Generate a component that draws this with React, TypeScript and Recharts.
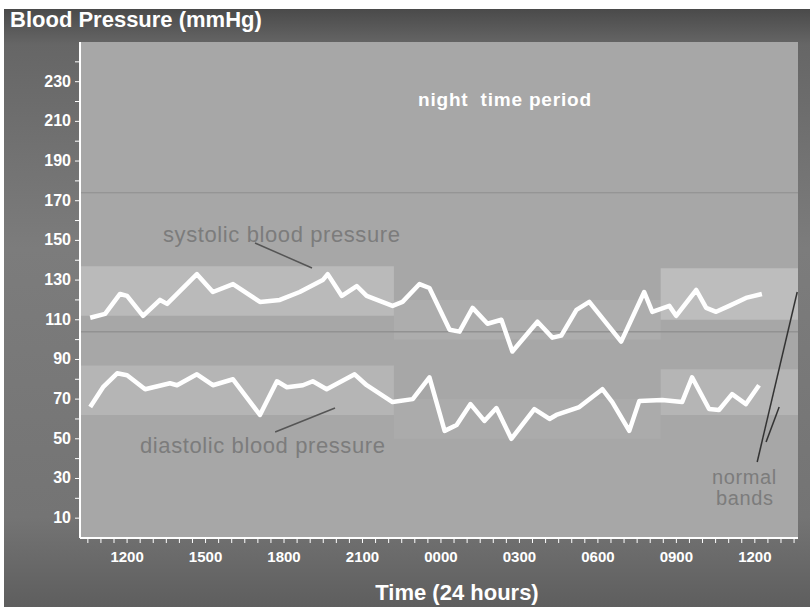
import React from "react";
import {
  LineChart,
  Line,
  XAxis,
  YAxis,
  ReferenceArea,
  ReferenceLine,
} from "recharts";

// time in decimal hours since midnight of day one (24+ = next day)
const sysTimes = [
  10.59, 11.16, 11.73, 12.0, 12.61, 13.26, 13.53, 14.67, 15.28, 16.05, 17.08,
  17.84, 18.6, 19.48, 19.67, 20.21, 20.78, 21.16, 22.15, 22.53, 23.18, 23.56,
  24.33, 24.71, 25.21, 25.78, 26.31, 26.73, 27.69, 28.26, 28.6, 29.18, 29.67,
  30.89, 31.77, 32.08, 32.73, 32.99, 33.76, 34.14, 34.52, 35.02, 35.66, 36.27,
];
const sysValues = [
  111, 113, 123, 122, 112, 120, 118, 133, 124, 128, 119, 120, 124, 130, 133,
  122, 127, 122, 117, 119, 128, 126, 105, 104, 116, 108, 110, 94, 109, 101, 102,
  115, 119, 99, 124, 114, 117, 112, 125, 116, 114, 117, 121, 123,
];

const diaTimes = [
  10.59, 11.08, 11.62, 12.0, 12.69, 13.64, 13.91, 14.67, 15.28, 16.05, 17.08,
  17.73, 18.11, 18.72, 19.1, 19.63, 20.7, 21.16, 22.15, 22.92, 23.56, 24.14,
  24.6, 25.13, 25.66, 26.12, 26.69, 27.57, 28.15, 28.41, 29.29, 30.17, 30.55,
  31.2, 31.58, 32.46, 33.22, 33.6, 34.25, 34.63, 35.13, 35.66, 36.16,
];
const diaValues = [
  66, 76, 83, 82, 75, 78, 77, 82.5, 77, 80, 62, 79, 76, 77, 79, 75, 82.5, 77,
  68.5, 70, 81, 54, 57, 67.5, 59, 65.5, 50, 65, 60, 62, 66, 75, 68.5, 54, 69,
  69.5, 68.5, 81, 65, 64.5, 72.5, 67.5, 77,
];

const xTicks = Array.from({ length: 55 }, (_, i) => 10.5 + i * 0.5);
const xLabelHours = [12, 15, 18, 21, 24, 27, 30, 33, 36];
const yTicks = [10, 20, 30, 40, 50, 60, 70, 80, 90, 100, 110, 120, 130, 140, 150, 160, 170, 180, 190, 200, 210, 220, 230, 240];
const yLabelValues = [10, 30, 50, 70, 90, 110, 130, 150, 170, 190, 210, 230];

const X_MIN = 10.2;
const X_MAX = 37.65;

const systolic = sysTimes.map((t, i) => ({ t, v: sysValues[i] }));
const diastolic = diaTimes.map((t, i) => ({ t, v: diaValues[i] }));

const tickFont = "'Liberation Sans', Arial, sans-serif";
const bodyFont = "Arial, 'Liberation Sans', sans-serif";

const XTick = (props: any) => {
  const { x, y, payload } = props;
  const h = payload.value;
  if (!xLabelHours.includes(h)) return null;
  const label = String(h % 24).padStart(2, "0") + "00";
  return (
    <text x={x} y={y} dy={17} textAnchor="middle" fill="#fff" fontSize={15} fontWeight="bold" fontFamily={tickFont}>
      {label}
    </text>
  );
};

const YTick = (props: any) => {
  const { x, y, payload } = props;
  if (!yLabelValues.includes(payload.value)) return null;
  return (
    <text x={x - 2} y={y} dy={5} textAnchor="end" fill="#fff" fontSize={16} fontWeight="bold" fontFamily={tickFont}>
      {payload.value}
    </text>
  );
};

const noteStyle: React.CSSProperties = {
  position: "absolute",
  color: "#7c7c7c",
  fontFamily: bodyFont,
  fontSize: 22,
  letterSpacing: 0.6,
  whiteSpace: "nowrap",
  lineHeight: 1,
};

export default function App() {
  return (
    <div style={{ position: "absolute", left: 0, top: 0, width: 810, height: 607, background: "#fff", overflow: "hidden" }}>
      <div
        style={{
          position: "absolute",
          left: 4,
          top: 9,
          width: 806,
          height: 598,
          background: "linear-gradient(to bottom, #4a4a4a 0%, #666 6%, #7c7c7c 40%, #747474 85%, #5e5e5e 100%)",
        }}
      />
      <div
        style={{
          position: "absolute",
          left: 10,
          top: 7,
          color: "#fff",
          fontWeight: "bold",
          fontSize: 22,
          fontFamily: bodyFont,
          lineHeight: "26px",
        }}
      >
        Blood Pressure (mmHg)
      </div>
      <div style={{ position: "absolute", left: 0, top: 0 }}>
        <LineChart width={810} height={607} margin={{ top: 42, right: 12, bottom: 39, left: 0 }}>
          <XAxis
            type="number"
            dataKey="t"
            domain={[X_MIN, X_MAX]}
            ticks={xTicks}
            interval={0}
            allowDataOverflow
            height={30}
            axisLine={{ stroke: "#fff", strokeWidth: 2 }}
            tickLine={{ stroke: "#fff" }}
            tickSize={5}
            tick={<XTick />}
          />
          <YAxis
            type="number"
            dataKey="v"
            domain={[0, 250]}
            ticks={yTicks}
            interval={0}
            width={80}
            axisLine={{ stroke: "#fff", strokeWidth: 2 }}
            tickLine={{ stroke: "#fff" }}
            tickSize={5}
            tick={<YTick />}
          />
          {/* plot background */}
          <ReferenceArea x1={X_MIN} x2={X_MAX} y1={0} y2={250} fill="#a7a7a7" fillOpacity={1} />
          {/* normal bands, day */}
          <ReferenceArea x1={X_MIN} x2={22.2} y1={112} y2={137} fill="#fff" fillOpacity={0.22} />
          <ReferenceArea x1={32.4} x2={X_MAX} y1={110} y2={136} fill="#fff" fillOpacity={0.25} />
          <ReferenceArea x1={X_MIN} x2={22.2} y1={62} y2={87} fill="#fff" fillOpacity={0.16} />
          <ReferenceArea x1={32.4} x2={X_MAX} y1={62} y2={85} fill="#fff" fillOpacity={0.16} />
          {/* normal bands, night */}
          <ReferenceArea x1={22.2} x2={32.4} y1={100} y2={120} fill="#fff" fillOpacity={0.07} />
          <ReferenceArea x1={22.2} x2={32.4} y1={50} y2={70} fill="#fff" fillOpacity={0.05} />
          <ReferenceLine y={174} stroke="#8f8f8f" strokeWidth={1} />
          <ReferenceLine y={104} stroke="#929292" strokeWidth={1.5} />
          {/* annotation pointers */}
          <ReferenceLine segment={[{ x: 16.89, y: 148.7 }, { x: 19.07, y: 136.1 }]} stroke="#555" strokeWidth={1.5} />
          <ReferenceLine segment={[{ x: 17.66, y: 53.4 }, { x: 19.95, y: 65.5 }]} stroke="#555" strokeWidth={1.5} />
          <ReferenceLine segment={[{ x: 36.09, y: 38.3 }, { x: 37.62, y: 124 }]} stroke="#333" strokeWidth={1.5} />
          <ReferenceLine segment={[{ x: 36.43, y: 48.4 }, { x: 36.93, y: 66 }]} stroke="#333" strokeWidth={1.5} />
          <Line
            data={systolic}
            dataKey="v"
            type="linear"
            stroke="#fff"
            strokeWidth={4.5}
            strokeLinejoin="round"
            dot={false}
            isAnimationActive={false}
          />
          <Line
            data={diastolic}
            dataKey="v"
            type="linear"
            stroke="#fff"
            strokeWidth={4.5}
            strokeLinejoin="round"
            dot={false}
            isAnimationActive={false}
          />
        </LineChart>
      </div>
      <div
        style={{
          position: "absolute",
          left: 418,
          top: 89,
          color: "#fff",
          fontWeight: "bold",
          fontSize: 19,
          letterSpacing: 0.8,
          fontFamily: bodyFont,
          whiteSpace: "pre",
        }}
      >
        night  time period
      </div>
      <div style={{ ...noteStyle, left: 163, top: 224 }}>systolic blood pressure</div>
      <div style={{ ...noteStyle, left: 140, top: 435 }}>diastolic blood pressure</div>
      <div style={{ ...noteStyle, left: 712, top: 467, fontSize: 20 }}>normal</div>
      <div style={{ ...noteStyle, left: 716, top: 488, fontSize: 20 }}>bands</div>
      <div
        style={{
          position: "absolute",
          left: 0,
          width: 810,
          top: 580,
          textAlign: "center",
          paddingLeft: 104,
          boxSizing: "border-box",
          color: "#fff",
          fontWeight: "bold",
          fontSize: 22,
          fontFamily: bodyFont,
        }}
      >
        Time (24 hours)
      </div>
    </div>
  );
}
